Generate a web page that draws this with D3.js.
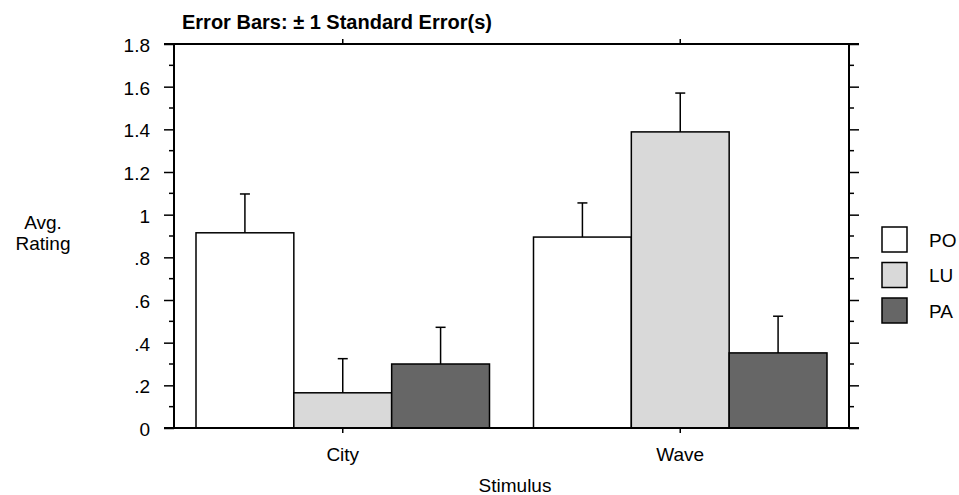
<!DOCTYPE html>
<html>
<head>
<meta charset="utf-8">
<script src="https://cdn.jsdelivr.net/npm/d3@7"></script>
<style>
  body { margin: 0; background: #fff; }
  svg { display: block; font-family: Arial, "Liberation Sans", sans-serif; }
</style>
</head>
<body>
<div id="chart"></div>
<script>
/* ===== Bar chart with error bars ===== */

const categories = ['City', 'Wave'];
const groups = ['PO', 'LU', 'PA'];
const groupColors = ['#ffffff', '#d9d9d9', '#666666'];

// means per category, in group order
const poValues = [0.915, 0.895];
const luValues = [0.165, 1.388];
const paValues = [0.300, 0.352];

// standard errors
const poErrors = [0.182, 0.16];
const luErrors = [0.16, 0.182];
const paErrors = [0.172, 0.172];

const yTicks = [0, 0.2, 0.4, 0.6, 0.8, 1, 1.2, 1.4, 1.6, 1.8];
const yTickLabels = ['0', '.2', '.4', '.6', '.8', '1', '1.2', '1.4', '1.6', '1.8'];

const data = [];
categories.forEach((c, i) => {
  data.push({ cat: c, group: 'PO', value: poValues[i], err: poErrors[i] });
  data.push({ cat: c, group: 'LU', value: luValues[i], err: luErrors[i] });
  data.push({ cat: c, group: 'PA', value: paValues[i], err: paErrors[i] });
});

const width = 959, height = 495;
const margin = { top: 44, right: 110, bottom: 67, left: 174 };
const w = width - margin.left - margin.right;
const h = height - margin.top - margin.bottom;
const fontSize = '19px';

const svg = d3.select('#chart').append('svg')
  .attr('width', width)
  .attr('height', height);

const g = svg.append('g')
  .attr('transform', `translate(${margin.left},${margin.top})`);

const x = d3.scaleBand()
  .domain(categories)
  .range([0, w])
  .paddingInner(0)
  .paddingOuter(0);

const inner = d3.scaleBand()
  .domain(groups)
  .range([22, x.bandwidth() - 22]);

const y = d3.scaleLinear()
  .domain([0, 1.8])
  .range([h, 0]);

const color = d3.scaleOrdinal().domain(groups).range(groupColors);

// Bars
g.selectAll('.bar')
  .data(data)
  .join('rect')
  .attr('class', 'bar')
  .attr('x', d => x(d.cat) + inner(d.group))
  .attr('y', d => y(d.value))
  .attr('width', inner.bandwidth())
  .attr('height', d => h - y(d.value))
  .attr('fill', d => color(d.group))
  .attr('stroke', '#000')
  .attr('stroke-width', 1.5);

// Error bars (upper only)
const cx = d => x(d.cat) + inner(d.group) + inner.bandwidth() / 2;

g.selectAll('.err')
  .data(data)
  .join('line')
  .attr('class', 'err')
  .attr('x1', cx)
  .attr('x2', cx)
  .attr('y1', d => y(d.value))
  .attr('y2', d => y(d.value + d.err))
  .attr('stroke', '#000')
  .attr('stroke-width', 1.5);

g.selectAll('.cap')
  .data(data)
  .join('line')
  .attr('class', 'cap')
  .attr('x1', d => cx(d) - 5)
  .attr('x2', d => cx(d) + 5)
  .attr('y1', d => y(d.value + d.err))
  .attr('y2', d => y(d.value + d.err))
  .attr('stroke', '#000')
  .attr('stroke-width', 1.5);

// Minor ticks
const minorTicks = d3.range(0.1, 1.8, 0.2);

// Left axis
const leftAxis = d3.axisLeft(y)
  .tickValues(yTicks)
  .tickSize(10)
  .tickPadding(14)
  .tickFormat((d, i) => yTickLabels[i]);
const la = g.append('g').call(leftAxis);
la.select('.domain').remove();
la.append('line').attr('x1', 0).attr('x2', 0).attr('y1', 0).attr('y2', h)
  .attr('stroke', '#000').attr('stroke-width', 2);
la.selectAll('.minor').data(minorTicks).join('line')
  .attr('class', 'minor')
  .attr('x1', -5).attr('x2', 0)
  .attr('y1', d => y(d)).attr('y2', d => y(d))
  .attr('stroke', '#000').attr('stroke-width', 1.5);
la.selectAll('.tick line').attr('stroke-width', 1.5);
la.selectAll('.tick text')
  .attr('font-size', fontSize)
  .attr('fill', '#000')
  .attr('dy', '0.4em')
  .attr('font-family', 'Arial, "Liberation Sans", sans-serif');

// Right axis
const rightAxis = d3.axisRight(y).tickValues(yTicks).tickSize(10).tickFormat('');
const ra = g.append('g').attr('transform', `translate(${w},0)`).call(rightAxis);
ra.select('.domain').remove();
ra.append('line').attr('x1', 0).attr('x2', 0).attr('y1', 0).attr('y2', h)
  .attr('stroke', '#000').attr('stroke-width', 2);
ra.selectAll('.minor').data(minorTicks).join('line')
  .attr('class', 'minor')
  .attr('x1', 0).attr('x2', 5)
  .attr('y1', d => y(d)).attr('y2', d => y(d))
  .attr('stroke', '#000').attr('stroke-width', 1.5);
ra.selectAll('.tick line').attr('stroke-width', 1.5);

// Bottom axis
const bottomAxis = d3.axisBottom(x).tickSize(5).tickPadding(15);
const ba = g.append('g').attr('transform', `translate(0,${h})`).call(bottomAxis);
ba.select('.domain').remove();
ba.append('line').attr('x1', -10).attr('x2', w + 10).attr('y1', 0).attr('y2', 0)
  .attr('stroke', '#000').attr('stroke-width', 2);
ba.selectAll('.tick line').attr('stroke-width', 1.5);
ba.selectAll('.tick text')
  .attr('font-size', fontSize)
  .attr('fill', '#000')
  .attr('font-family', 'Arial, "Liberation Sans", sans-serif');

// Top axis
const topAxis = d3.axisTop(x).tickSize(5).tickFormat('');
const ta = g.append('g').call(topAxis);
ta.select('.domain').remove();
ta.append('line').attr('x1', -10).attr('x2', w + 10).attr('y1', 0).attr('y2', 0)
  .attr('stroke', '#000').attr('stroke-width', 2);
ta.selectAll('.tick line').attr('stroke-width', 1.5);

// Title
svg.append('text')
  .attr('x', 182)
  .attr('y', 29)
  .attr('font-size', '20px')
  .attr('font-weight', 'bold')
  .text('Error Bars: \u00b1 1 Standard Error(s)');

// Y label
svg.append('text')
  .attr('x', 43).attr('y', 229)
  .attr('text-anchor', 'middle')
  .attr('font-size', fontSize)
  .text('Avg.');
svg.append('text')
  .attr('x', 43).attr('y', 250)
  .attr('text-anchor', 'middle')
  .attr('font-size', fontSize)
  .text('Rating');

// X label
svg.append('text')
  .attr('x', 515)
  .attr('y', 492)
  .attr('text-anchor', 'middle')
  .attr('font-size', fontSize)
  .text('Stimulus');

// Legend
const legend = svg.append('g').attr('transform', 'translate(882,227)');
const items = legend.selectAll('g')
  .data(groups)
  .join('g')
  .attr('transform', (d, i) => `translate(0,${i * 35.5})`);
items.append('rect')
  .attr('width', 25).attr('height', 25)
  .attr('fill', d => color(d))
  .attr('stroke', '#000')
  .attr('stroke-width', 1.5);
items.append('text')
  .attr('x', 47).attr('y', 19.5)
  .attr('font-size', fontSize)
  .text(d => d);
</script>
</body>
</html>
